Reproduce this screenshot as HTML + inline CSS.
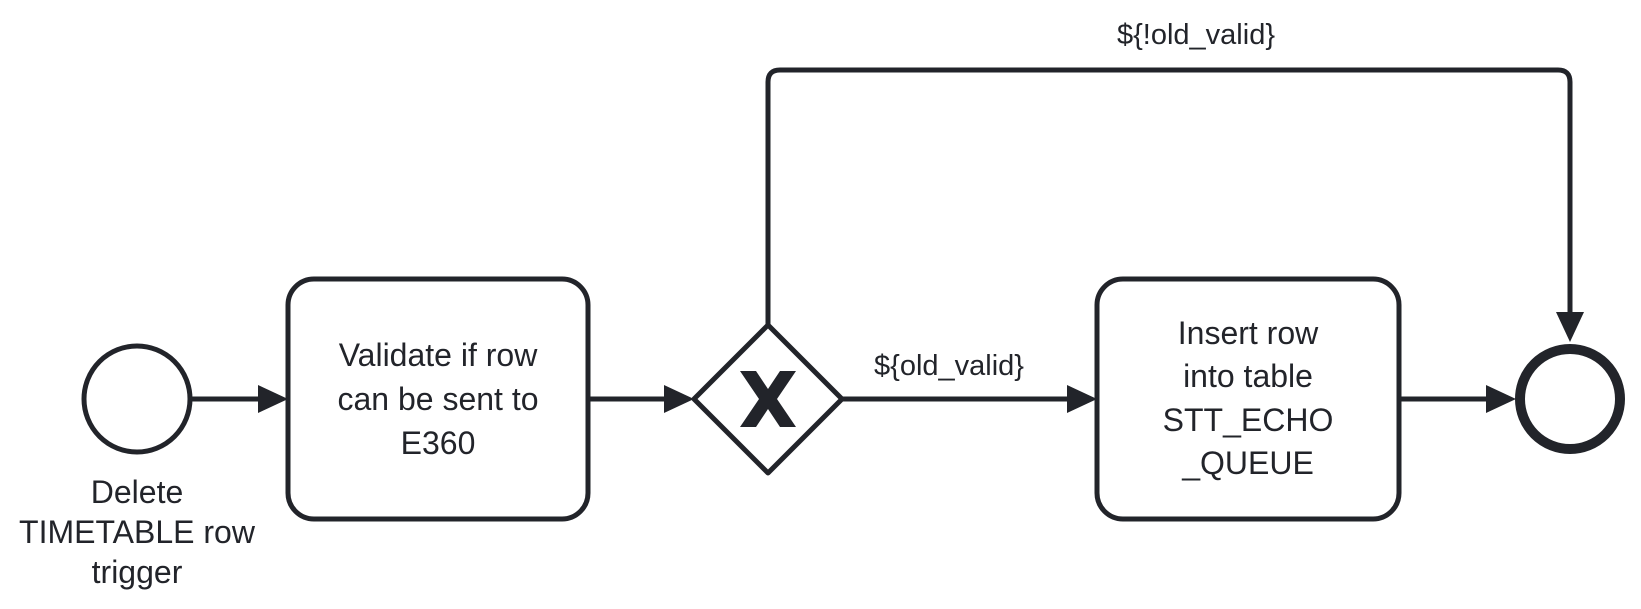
<!DOCTYPE html>
<html><head><meta charset="utf-8"><style>
html,body{margin:0;padding:0;background:#fff;}
svg{display:block;}
text{font-family:"Liberation Sans",Arial,sans-serif;fill:#22242a;font-size:32px;text-anchor:middle;}
</style></head><body>
<svg width="1641" height="609" viewBox="0 0 1641 609" xmlns="http://www.w3.org/2000/svg">
<g stroke="#22242a" fill="none" stroke-width="5" stroke-linejoin="round">
  <circle cx="137" cy="399" r="53" fill="#fff"/>
  <rect x="288" y="279" width="300" height="240" rx="26" fill="#fff"/>
  <rect x="1097" y="279" width="302" height="240" rx="26" fill="#fff"/>
  <polygon points="768,325 842,399 768,473 694,399" fill="#fff"/>
  <circle cx="1570" cy="399" r="50" stroke-width="10" fill="#fff"/>
  <line x1="190" y1="399" x2="262" y2="399"/>
  <line x1="588" y1="399" x2="668" y2="399"/>
  <line x1="842" y1="399" x2="1071" y2="399"/>
  <line x1="1399" y1="399" x2="1490" y2="399"/>
  <path d="M768,325 V82 Q768,70 780,70 H1558 Q1570,70 1570,82 V316"/>
</g>
<g fill="#22242a">
  <polygon points="258,385 288,399 258,413"/>
  <polygon points="664,385 694,399 664,413"/>
  <polygon points="1067,385 1097,399 1067,413"/>
  <polygon points="1486,385 1516,399 1486,413"/>
  <polygon points="1556,312 1584,312 1570,342"/>
  <polygon points="740,371 756,371 768,389 780,371 796,371 777,399 796,427 780,427 768,409 756,427 740,427 759,399"/>
</g>
<text x="137" y="503">Delete</text>
<text x="137" y="543">TIMETABLE row</text>
<text x="137" y="583">trigger</text>
<text x="438" y="366">Validate if row</text>
<text x="438" y="410">can be sent to</text>
<text x="438" y="454">E360</text>
<text x="1248" y="344">Insert row</text>
<text x="1248" y="387">into table</text>
<text x="1248" y="431">STT_ECHO</text>
<text x="1248" y="474">_QUEUE</text>
<text x="949" y="375" style="font-size:29px">${old_valid}</text>
<text x="1196" y="44" style="font-size:29px">${!old_valid}</text>
</svg>
</body></html>
